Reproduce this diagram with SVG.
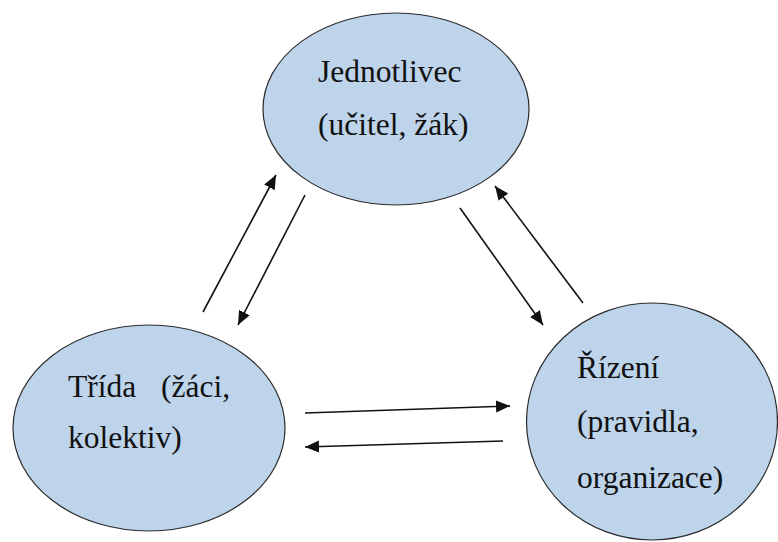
<svg xmlns="http://www.w3.org/2000/svg" width="778" height="542" viewBox="0 0 778 542">
<style>
.node{fill:#bdd4eb;stroke:#2b2b2b;stroke-width:1.2}
.lbl{font-family:"Liberation Serif","Times New Roman",serif;font-size:31.5px;fill:#111}
.arr{stroke:#111;stroke-width:1.6;fill:none;marker-end:url(#ah)}
</style>
<defs>
<marker id="ah" markerUnits="userSpaceOnUse" markerWidth="16" markerHeight="14" viewBox="0 0 16 14" refX="14" refY="6" orient="auto">
<path d="M0,0 L14,6 L0,12 z" fill="#111"/>
</marker>
</defs>
<rect width="778" height="542" fill="#fff"/>
<g id="jednotlivec">
<ellipse class="node" cx="396" cy="109" rx="133" ry="96"/>
<text class="lbl" x="318" y="82">Jednotlivec</text>
<text class="lbl" x="318" y="135">(učitel, žák)</text>
</g>
<g id="trida">
<ellipse class="node" cx="149" cy="428" rx="136" ry="103"/>
<text class="lbl" x="68" y="397" xml:space="preserve">Třída  <tspan x="161">(žáci,</tspan></text>
<text class="lbl" x="68" y="448">kolektiv)</text>
</g>
<g id="rizeni">
<ellipse class="node" cx="652" cy="421.5" rx="125.5" ry="118.5"/>
<text class="lbl" x="577" y="378">Řízení</text>
<text class="lbl" x="577" y="432">(pravidla,</text>
<text class="lbl" x="577" y="488">organizace)</text>
</g>
<g id="connectors">
<line class="arr" x1="203" y1="312" x2="276" y2="175"/>
<line class="arr" x1="305" y1="195" x2="238" y2="325"/>
<line class="arr" x1="460" y1="208" x2="543" y2="325"/>
<line class="arr" x1="583" y1="303" x2="495" y2="186"/>
<line class="arr" x1="305" y1="413" x2="510" y2="406"/>
<line class="arr" x1="503" y1="441" x2="305" y2="447"/>
</g>
</svg>
